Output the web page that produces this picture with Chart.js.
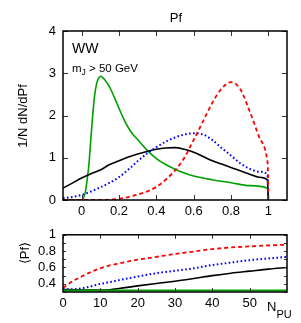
<!DOCTYPE html>
<html>
<head>
<meta charset="utf-8">
<script src="https://cdn.jsdelivr.net/npm/chart.js@4.4.0/dist/chart.umd.min.js"></script>
<style>
  html, body { margin: 0; padding: 0; background: #fff; }
  #wrap { position: relative; width: 301px; height: 323px; }
  #c1 { position: absolute; left: 0; top: 0; }
  #c2 { position: absolute; left: 0; top: 220px; }
</style>
</head>
<body>
<div id="wrap">
  <canvas id="c1" width="301" height="220"></canvas>
  <canvas id="c2" width="301" height="103"></canvas>
</div>
<script>
// ---- top panel: 1/N dN/dPf vs Pf ----
const pfTicks = [0, 0.2, 0.4, 0.6, 0.8, 1];
const densTicks = [0, 1, 2, 3, 4];

const blackX = [-0.1, -0.05, 0, 0.05, 0.1, 0.15, 0.2, 0.25, 0.3, 0.35, 0.4, 0.45, 0.5, 0.55, 0.6, 0.65, 0.7, 0.75, 0.8, 0.85, 0.9, 0.95, 0.995, 1.0];
const blackY = [0.28, 0.40, 0.52, 0.62, 0.71, 0.84, 0.93, 1.02, 1.09, 1.15, 1.20, 1.23, 1.24, 1.20, 1.13, 1.03, 0.93, 0.85, 0.77, 0.69, 0.61, 0.54, 0.48, 0];

const blueX = [-0.1, -0.05, 0, 0.05, 0.1, 0.15, 0.2, 0.25, 0.3, 0.35, 0.4, 0.45, 0.5, 0.55, 0.6, 0.65, 0.7, 0.75, 0.8, 0.85, 0.9, 0.95, 0.995, 1.0];
const blueY = [0.04, 0.07, 0.12, 0.20, 0.30, 0.41, 0.54, 0.72, 0.92, 1.10, 1.25, 1.38, 1.48, 1.55, 1.58, 1.55, 1.42, 1.23, 1.05, 0.87, 0.74, 0.67, 0.60, 0];

const greenX = [-0.1, 0, 0.02, 0.03, 0.04, 0.05, 0.06, 0.07, 0.08, 0.09, 0.1, 0.11, 0.125, 0.15, 0.175, 0.2, 0.225, 0.25, 0.275, 0.3, 0.35, 0.4, 0.45, 0.5, 0.55, 0.6, 0.7, 0.8, 0.9, 0.995, 1.0];
const greenY = [0, 0, 0.2, 0.5, 0.9, 1.5, 2.05, 2.5, 2.75, 2.88, 2.93, 2.91, 2.84, 2.67, 2.43, 2.17, 1.92, 1.71, 1.55, 1.43, 1.18, 0.98, 0.84, 0.73, 0.64, 0.57, 0.48, 0.41, 0.34, 0.28, 0];

const redX = [-0.1, 0.1, 0.15, 0.2, 0.25, 0.3, 0.35, 0.4, 0.45, 0.5, 0.55, 0.6, 0.65, 0.7, 0.75, 0.8, 0.85, 0.9, 0.95, 0.99, 0.998, 1.0];
const redY = [0, 0, 0.01, 0.03, 0.07, 0.13, 0.2, 0.31, 0.48, 0.7, 1.0, 1.42, 1.86, 2.3, 2.64, 2.79, 2.62, 2.1, 1.5, 1.05, 0.65, 0];

// ---- bottom panel: <Pf> vs N_PU ----
const puTicks = [0, 10, 20, 30, 40, 50];
const meanTicks = [0.3, 0.4, 0.5, 0.6, 0.7, 0.8, 0.9, 1.0];
const puX = [0, 2.5, 5, 7.5, 10, 12.5, 15, 20, 25, 30, 35, 40, 45, 50, 55, 60];
const redPU = [0.35, 0.43, 0.49, 0.545, 0.59, 0.625, 0.65, 0.695, 0.73, 0.765, 0.795, 0.825, 0.845, 0.858, 0.87, 0.878];
const bluePU = [0.335, 0.335, 0.345, 0.37, 0.40, 0.42, 0.445, 0.49, 0.53, 0.56, 0.59, 0.63, 0.66, 0.69, 0.71, 0.73];
const blackPU = [0.33, 0.327, 0.324, 0.323, 0.323, 0.328, 0.342, 0.375, 0.405, 0.432, 0.465, 0.5, 0.53, 0.555, 0.58, 0.6];
const greenPU = [0.318, 0.318, 0.318, 0.318, 0.318, 0.318, 0.318, 0.318, 0.318, 0.318, 0.318, 0.318, 0.318, 0.318, 0.318, 0.318];

const FONT = 'Liberation Sans, Arial, Helvetica, sans-serif';
const GREEN = '#00a000', RED = '#ff0000', BLUE = '#0000ff', BLACK = '#000000';

const pts = (xs, ys) => xs.map((x, i) => ({ x: x, y: ys[i] }));
const fmt = v => String(+(+v).toFixed(1));

function line(data, color, dash, width) {
  return {
    data: data,
    borderColor: color,
    borderWidth: width || 1.6,
    borderDash: dash || [],
    pointRadius: 0,
    fill: false,
    cubicInterpolationMode: 'monotone'
  };
}

// frame, inward ticks on all four sides, free text
const frameTicks = {
  id: 'frameTicks',
  afterDraw(chart, args, opts) {
    const { ctx, chartArea: a, scales } = chart;
    const x = scales.x, y = scales.y;
    ctx.save();
    ctx.strokeStyle = '#333';
    ctx.lineWidth = 1;
    ctx.beginPath();
    x.ticks.forEach(t => {
      const px = Math.round(x.getPixelForValue(t.value)) + 0.5;
      ctx.moveTo(px, a.bottom); ctx.lineTo(px, a.bottom - opts.xLen);
      ctx.moveTo(px, a.top); ctx.lineTo(px, a.top + opts.xLen);
    });
    y.ticks.forEach(t => {
      const py = Math.round(y.getPixelForValue(t.value)) + 0.5;
      ctx.moveTo(a.left, py); ctx.lineTo(a.left + opts.yLen, py);
      ctx.moveTo(a.right, py); ctx.lineTo(a.right - opts.yLen, py);
    });
    ctx.stroke();
    ctx.strokeStyle = '#000';
    ctx.lineWidth = 1.5;
    ctx.strokeRect(a.left, a.top, a.right - a.left, a.bottom - a.top);

    ctx.fillStyle = '#000';
    (opts.texts || []).forEach(t => {
      ctx.save();
      ctx.translate(t.x, t.y);
      if (t.rot) ctx.rotate(t.rot);
      ctx.font = t.font;
      ctx.textAlign = t.align || 'left';
      ctx.textBaseline = 'alphabetic';
      ctx.fillText(t.text, 0, 0);
      if (t.sub) {
        const w = t.align === 'center' ? ctx.measureText(t.text).width / 2 : ctx.measureText(t.text).width;
        ctx.font = t.subFont;
        ctx.textAlign = 'left';
        ctx.fillText(t.sub, w, t.subDy);
        if (t.rest) {
          const w2 = ctx.measureText(t.sub).width;
          ctx.font = t.font;
          ctx.fillText(t.rest, w + w2, 0);
        }
      }
      ctx.restore();
    });
    ctx.restore();
  }
};

new Chart(document.getElementById('c1'), {
  type: 'line',
  data: {
    datasets: [
      line(pts(redX, redY), RED, [4, 3], 1.8),
      line(pts(blueX, blueY), BLUE, [1.6, 2.4], 2),
      line(pts(blackX, blackY), BLACK),
      line(pts(greenX, greenY), GREEN)
    ]
  },
  options: {
    responsive: false,
    animation: false,
    layout: { padding: { left: 0, top: 31, right: 14, bottom: 0 } },
    plugins: {
      legend: { display: false },
      tooltip: { enabled: false },
      frameTicks: {
        xLen: 5, yLen: 5,
        texts: [
          { text: 'Pf', x: 176, y: 22, font: '13px ' + FONT, align: 'center' },
          { text: '1/N dN/dPf', x: 27, y: 116, rot: -Math.PI / 2, font: '13px ' + FONT, align: 'center' },
          { text: 'WW', x: 72, y: 53, font: '14px ' + FONT },
          { text: 'm', x: 72, y: 72, font: '11.5px ' + FONT, sub: 'J', subFont: '8.5px ' + FONT, subDy: 3, rest: ' > 50 GeV' }
        ]
      }
    },
    scales: {
      x: {
        type: 'linear', min: -0.1, max: 1.1,
        afterBuildTicks: s => { s.ticks = pfTicks.map(v => ({ value: v })); },
        afterFit: s => { s.height = 20; },
        grid: { display: false, drawTicks: false },
        border: { display: false },
        ticks: { padding: 4, autoSkip: false, color: '#000', font: { family: FONT, size: 13 }, callback: fmt, maxRotation: 0 }
      },
      y: {
        type: 'linear', min: 0, max: 4,
        afterBuildTicks: s => { s.ticks = densTicks.map(v => ({ value: v })); },
        afterFit: s => { s.width = 63; },
        grid: { display: false, drawTicks: false },
        border: { display: false },
        ticks: { padding: 7, autoSkip: false, color: '#000', font: { family: FONT, size: 13 }, callback: fmt }
      }
    }
  },
  plugins: [frameTicks]
});

new Chart(document.getElementById('c2'), {
  type: 'line',
  data: {
    datasets: [
      line(pts(puX, greenPU), GREEN, [], 2),
      line(pts(puX, redPU), RED, [4, 3], 1.8),
      line(pts(puX, bluePU), BLUE, [1.6, 2.4], 2),
      line(pts(puX, blackPU), BLACK)
    ]
  },
  options: {
    responsive: false,
    animation: false,
    layout: { padding: { left: 0, top: 12, right: 14, bottom: 0 } },
    plugins: {
      legend: { display: false },
      tooltip: { enabled: false },
      frameTicks: {
        xLen: 4, yLen: 3,
        texts: [
          { text: '\u27E8Pf\u27E9', x: 29, y: 33, rot: -Math.PI / 2, font: '13px ' + FONT, align: 'center' },
          { text: 'N', x: 267, y: 91, font: '13px ' + FONT, sub: 'PU', subFont: '11px ' + FONT, subDy: 7 }
        ]
      }
    },
    scales: {
      x: {
        type: 'linear', min: 0, max: 60,
        afterBuildTicks: s => { s.ticks = puTicks.map(v => ({ value: v })); },
        afterFit: s => { s.height = 31; },
        grid: { display: false, drawTicks: false },
        border: { display: false },
        ticks: { padding: 4, autoSkip: false, color: '#000', font: { family: FONT, size: 13 }, callback: fmt, maxRotation: 0 }
      },
      y: {
        type: 'linear', min: 0.3, max: 1.0,
        afterBuildTicks: s => { s.ticks = meanTicks.map(v => ({ value: v })); },
        afterFit: s => { s.width = 63; },
        grid: { display: false, drawTicks: false },
        border: { display: false },
        ticks: {
          padding: 7, autoSkip: false, color: '#000', font: { family: FONT, size: 13 },
          callback: v => (Math.round(v * 10) % 2 === 0 && v > 0.35) ? fmt(v) : ''
        }
      }
    }
  },
  plugins: [frameTicks]
});
</script>
</body>
</html>
